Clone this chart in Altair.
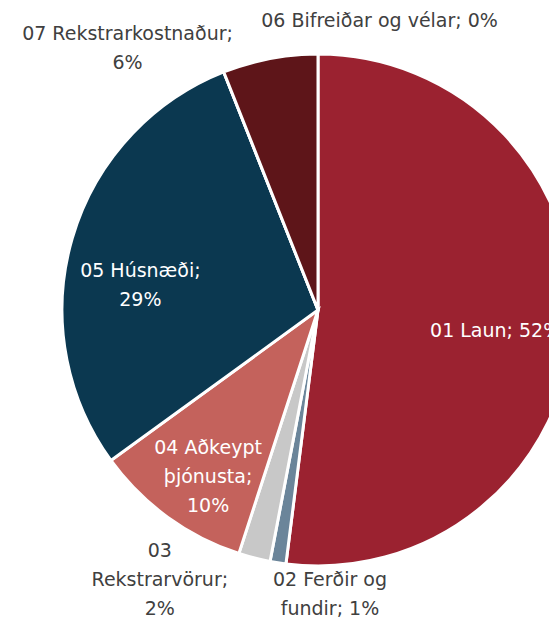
import altair as alt
import pandas as pd

categories = ["01 Laun", "02 Ferðir og fundir", "03 Rekstrarvörur", "04 Aðkeypt þjónusta",
              "05 Húsnæði", "06 Bifreiðar og vélar", "07 Rekstrarkostnaður"]
values = [52, 1, 2, 10, 29, 0, 6]
labels = ["01 Laun; 52%", "02 Ferðir og\nfundir; 1%", "03\nRekstrarvörur;\n2%",
          "04 Aðkeypt\nþjónusta;\n10%", "05 Húsnæði;\n29%", "06 Bifreiðar og vélar; 0%",
          "07 Rekstrarkostnaður;\n6%"]
colors = ["#9B2230", "#6B859A", "#C8C8C8", "#C4625C", "#0B3850", "#5E1519", "#5E1519"]

df = pd.DataFrame({"cat": categories, "value": values, "label": labels,
                   "idx": list(range(len(categories)))})

CX, CY = 310, 302
R = 256
FONT = "DejaVu Sans"

pie = alt.Chart(df).mark_arc(outerRadius=R, stroke="white", strokeWidth=3, x=CX, y=CY).encode(
    theta=alt.Theta("value:Q", stack=True),
    order=alt.Order("idx:Q"),
    color=alt.Color("cat:N", scale=alt.Scale(domain=categories, range=colors), legend=None),
)

lab_base = alt.Chart(df).transform_joinaggregate(
    total="sum(value)"
).transform_window(
    cum="sum(value)", sort=[alt.SortField("idx")], frame=[None, 0]
).transform_calculate(
    mid="(datum.cum - datum.value / 2) / datum.total"
)

# label layout: (category, radius, dx, dy, color)
label_layout = [
    ("01 Laun", 177, 1, 10, "white"),
    ("02 Ferðir og fundir", 275, 55, -2, "#404040"),
    ("03 Rekstrarvörur", 250, -96, -1, "#404040"),
    ("04 Aðkeypt þjónusta", 170, -10, 0, "white"),
    ("05 Húsnæði", 185, 0, 13, "white"),
    ("06 Bifreiðar og vélar", 300, 172, -10, "#404040"),
    ("07 Rekstrarkostnaður", 280, -138, -1, "#404040"),
]

layers = [pie]
for cat, r, dx, dy, col in label_layout:
    layers.append(
        lab_base.transform_filter(alt.datum.cat == cat)
        .mark_text(radius=r, dx=dx, dy=dy, x=CX, y=CY, font=FONT, fontSize=19,
                   lineBreak="\n", lineHeight=29, align="center", baseline="middle",
                   color=col)
        .encode(
            theta=alt.Theta("mid:Q", scale=alt.Scale(domain=[0, 1], range=[0, 6.283185307])),
            text="label:N",
        )
    )

chart = alt.layer(*layers).resolve_scale(theta="independent").properties(
    width=541, height=610, padding=0,
    autosize=alt.AutoSizeParams(type="none"),
).configure_view(stroke=None)

chart.save("out.html", embed_options={"renderer": "svg", "actions": False})
